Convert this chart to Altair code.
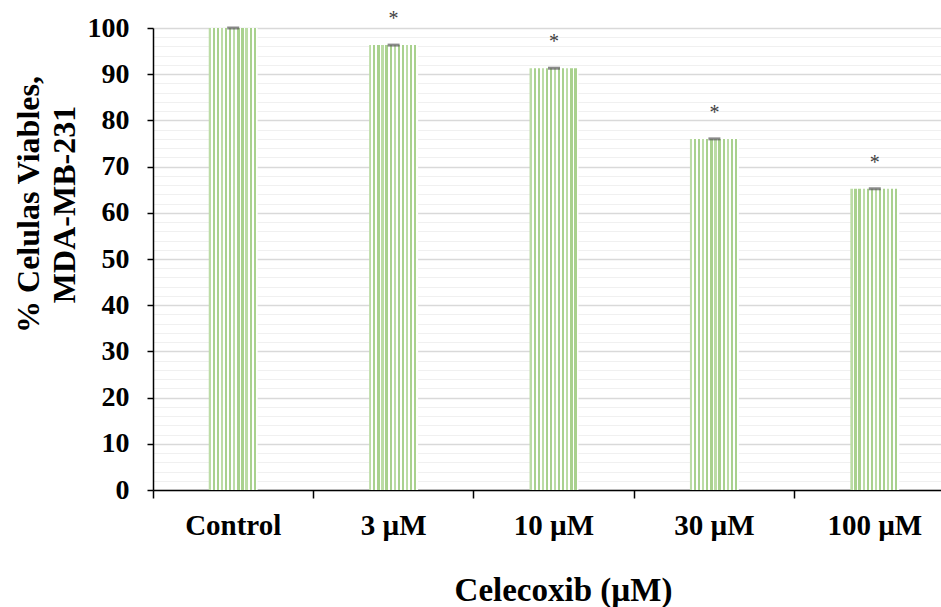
import altair as alt
import pandas as pd

categories = ["Control", "3 µM", "10 µM", "30 µM", "100 µM"]
values = [100.0, 96.3, 91.3, 76.0, 65.2]
stars = ["", "*", "*", "*", "*"]

df = pd.DataFrame({"cat": categories, "val": values, "star": stars})

# striped fill via a sharp linear gradient
n = 12
stops = []
for i in range(n):
    a = i / n
    b = (i + 0.55) / n
    c = (i + 1) / n
    g = "#a9d18e" if i % 3 else "#bcdca6"
    stops += [
        {"offset": a, "color": g},
        {"offset": b, "color": g},
        {"offset": b, "color": "#ffffff"},
        {"offset": c, "color": "#ffffff"},
    ]
grad = {"gradient": "linear", "x1": 0, "x2": 1, "y1": 0, "y2": 0, "stops": stops}

FONT = "Liberation Serif"
W = 788
H = 462
STEP_BAND_POS = -(160.4 - 49) / 2 / 49  # tick at midpoint between bars

x = alt.X(
    "cat:N",
    sort=categories,
    scale=alt.Scale(range=[0, 802], paddingInner=0.695, paddingOuter=0.3475),
    axis=alt.Axis(
        title="Celecoxib (µM)",
        labelAngle=0,
        labelFont=FONT,
        labelFontSize=29,
        labelFontWeight="bold",
        labelColor="black",
        labelBaseline="alphabetic",
        labelPadding=36,
        labelOverlap=False,
        titleFont=FONT,
        titleFontSize=33,
        titleFontWeight="bold",
        titleColor="black",
        titleX=410,
        titleY=110,
        titleAlign="center",
        titleBaseline="alphabetic",
        domainColor="black",
        domainWidth=1.5,
        tickColor="black",
        tickWidth=1.5,
        tickSize=8,
        bandPosition=STEP_BAND_POS,
        grid=False,
    ),
)

y = alt.Y(
    "val:Q",
    scale=alt.Scale(domain=[0, 100], nice=False),
    axis=alt.Axis(
        title=["% Celulas Viables,", "MDA-MB-231"],
        values=list(range(0, 101, 2)),
        labelExpr="datum.value % 10 === 0 ? datum.value : ''",
        labelOverlap=False,
        labelFont=FONT,
        labelFontSize=28,
        labelFontWeight="bold",
        labelColor="black",
        labelPadding=18,
        titleFont=FONT,
        titleFontSize=32,
        titleFontWeight="bold",
        titleColor="black",
        titleAngle=270,
        titleX=-115,
        titleY=176,
        titleAlign="center",
        titleBaseline="alphabetic",
        titleLineHeight=36,
        domainColor="black",
        domainWidth=1.5,
        tickColor="black",
        tickWidth=1.5,
        tickSize=6,
        tickOpacity={"condition": {"test": "datum.value % 10 === 0", "value": 1}, "value": 0},
        grid=True,
        gridColor={"condition": {"test": "datum.value % 10 === 0", "value": "#d9d9d9"}, "value": "#f0f0f0"},
        gridWidth={"condition": {"test": "datum.value % 10 === 0", "value": 1.5}, "value": 1.2},
    ),
)

base = alt.Chart(df).encode(x=x, y=y)
bars = base.mark_bar(color=grad)
caps = base.mark_tick(color="#595959", size=12, thickness=3)
txt = base.mark_text(
    dy=-26, fontSize=20, font=FONT, color="#404040", baseline="middle"
).encode(text="star:N")

chart = (
    alt.layer(bars, caps, txt)
    .properties(
        width=W,
        height=H,
        autosize=alt.AutoSizeParams(type="none"),
        padding={"left": 153, "top": 28, "right": 0, "bottom": 117},
    )
    .configure_view(stroke=None)
    .configure(background="white")
)

chart.save("out.html", embed_options={"renderer": "svg", "actions": False})
